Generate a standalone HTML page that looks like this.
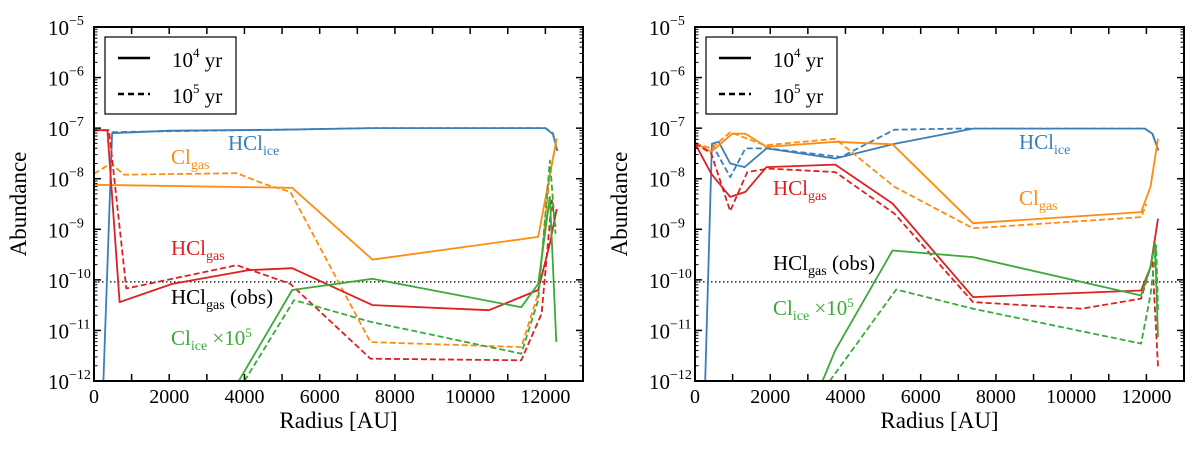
<!DOCTYPE html>
<html><head><meta charset="utf-8"><style>
html,body{margin:0;padding:0;background:#fff;}
svg{display:block;font-family:"Liberation Serif",serif;}
</style></head><body>
<svg id="chart" width="1200" height="450" viewBox="0 0 1200 450" xmlns="http://www.w3.org/2000/svg"></svg>
<script>
const xTicks=[0,2000,4000,6000,8000,10000,12000];
const yDecades=[-5,-6,-7,-8,-9,-10,-11,-12];
const obsLevel=-10.04;
// Left panel series [radius, log10 abundance]
const L_iceSolidX=[250,480,2000,5000,7400,12000,12200,12320];
const L_iceSolidY=[-12,-7.1,-7.05,-7.03,-7.0,-7.0,-7.12,-7.45];
const L_iceDashX=[480,2000,5000,7400,12000,12200,12320];
const L_iceDashY=[-7.08,-7.06,-7.03,-7.0,-7.0,-7.1,-7.45];
const L_clSolidX=[0,5270,7400,11810,12300];
const L_clSolidY=[-8.12,-8.18,-9.6,-9.15,-7.2];
const L_clDashX=[0,450,800,3800,4510,5220,7350,11360,11810,12120,12300];
const L_clDashY=[-7.9,-7.7,-7.92,-7.89,-8.1,-8.26,-11.23,-11.33,-10.27,-7.9,-7.25];
const L_hclSolidX=[0,355,680,2080,4100,5270,7400,10500,11810,12120,12300];
const L_hclSolidY=[-7.04,-7.04,-10.44,-10.08,-9.81,-9.77,-10.5,-10.6,-10.2,-9.28,-8.6];
const L_hclDashX=[0,400,860,3800,5220,7350,11360,11900,12170,12270];
const L_hclDashY=[-7.04,-7.04,-10.17,-9.71,-10.08,-11.56,-11.59,-10.67,-8.43,-8.95];
const L_cliceSolidX=[3850,5270,7400,11360,11810,12120,12290];
const L_cliceSolidY=[-12,-10.2,-9.98,-10.54,-10.08,-8.36,-11.23];
const L_cliceDashX=[4000,5320,7350,11360,11810,12120,12270];
const L_cliceDashY=[-12,-10.4,-10.83,-11.46,-10.4,-7.64,-9.09];
// Right panel series
const R_iceSolidX=[270,450,630,935,1320,1900,3730,5250,7390,11960,12160,12320];
const R_iceSolidY=[-12,-7.31,-7.27,-7.7,-7.77,-7.4,-7.6,-7.32,-7.01,-7.01,-7.11,-7.44];
const R_iceDashX=[450,935,1340,1950,3880,5300,7000,11960,12160,12320];
const R_iceDashY=[-7.31,-7.97,-7.4,-7.4,-7.57,-7.03,-7.01,-7.01,-7.11,-7.44];
const R_clSolidX=[0,430,990,1340,1900,3730,5250,7390,11860,12110,12310];
const R_clSolidY=[-7.29,-7.47,-7.11,-7.11,-7.37,-7.27,-7.32,-8.88,-8.66,-8.16,-7.21];
const R_clDashX=[0,430,935,1850,3730,5300,7390,11860,12000];
const R_clDashY=[-7.3,-7.4,-7.08,-7.34,-7.21,-8.16,-8.98,-8.76,-8.5];
const R_hclSolidX=[0,430,935,1340,1900,3730,5250,7390,11860,12110,12310];
const R_hclSolidY=[-7.3,-7.9,-8.36,-8.26,-7.77,-7.72,-8.49,-10.34,-10.21,-9.75,-8.79];
const R_hclDashX=[0,430,935,1390,1950,3730,5300,7390,10280,11860,12160,12310];
const R_hclDashY=[-7.3,-7.5,-8.64,-7.87,-7.8,-7.87,-8.69,-10.44,-10.57,-10.37,-9.61,-11.72];
const R_cliceSolidX=[3390,3730,5250,7390,11860,12110,12230,12310];
const R_cliceSolidY=[-12,-11.39,-9.42,-9.55,-10.31,-9.75,-9.28,-11.13];
const R_cliceDashX=[3580,5350,7390,11860,12110,12260,12310];
const R_cliceDashY=[-12,-10.19,-10.57,-11.26,-10.3,-9.32,-10.6];

const NS='http://www.w3.org/2000/svg';
const svg=document.getElementById('chart');
const C={blue:'#3a7fb8',orange:'#ff8c10',red:'#dd2020',green:'#3aaa3a'};
function mk(t,a,parent){const e=document.createElementNS(NS,t);for(const k in a)e.setAttribute(k,a[k]);(parent||svg).appendChild(e);return e;}

function panel(ox,tag,series,labels){
  const x0=ox,x1=ox+489,yT=27,yB=381;
  const sx=v=>x0+v/13000*(x1-x0);
  const sy=v=>yT+(-5-v)/7*(yB-yT);
  const g=mk('g',{});
  
  
  const clip=mk('clipPath',{id:'clip'+tag},g);
  mk('rect',{x:x0,y:yT,width:x1-x0,height:yB-yT},clip);
  const ob=mk('line',{x1:x0,x2:x1,y1:sy(obsLevel),y2:sy(obsLevel),stroke:'#000','stroke-width':1.3,'stroke-dasharray':'1.5,2.5'},g);
  
  
  const sg=mk('g',{'clip-path':'url(#clip'+tag+')'},g);
  series.forEach(s=>{
    const p=s.xs.map((v,i)=>sx(v).toFixed(1)+','+sy(s.ys[i]).toFixed(1)).join(' ');
    const pl=mk('polyline',{points:p,fill:'none',stroke:s.c,'stroke-width':1.8,'stroke-dasharray':s.d?'6,3':'none','stroke-linejoin':'round'},sg);
    
    
  });
  mk('rect',{x:x0,y:yT,width:x1-x0,height:yB-yT,fill:'none',stroke:'#000','stroke-width':2},g);
  for(let v=0;v<=13000;v+=1000){
    const X=sx(v);
    mk('line',{x1:X,x2:X,y1:yB,y2:yB-7,stroke:'#000','stroke-width':1.5},g);
    mk('line',{x1:X,x2:X,y1:yT,y2:yT+7,stroke:'#000','stroke-width':1.5},g);
  }
  xTicks.forEach(v=>{
    const t=mk('text',{x:sx(v),y:yB+22,'text-anchor':'middle','font-size':20},g);
    t.textContent=v;
    
    
  });
  yDecades.forEach(d=>{
    const Y=sy(d);
    mk('line',{x1:x0,x2:x0+7,y1:Y,y2:Y,stroke:'#000','stroke-width':1.5},g);
    mk('line',{x1:x1,x2:x1-7,y1:Y,y2:Y,stroke:'#000','stroke-width':1.5},g);
    if(d>-12)for(let m=2;m<=9;m++){const Ym=sy(d-1+Math.log10(m));
      mk('line',{x1:x0,x2:x0+3.5,y1:Ym,y2:Ym,stroke:'#000','stroke-width':1},g);
      mk('line',{x1:x1,x2:x1-3.5,y1:Ym,y2:Ym,stroke:'#000','stroke-width':1},g);}
    const t=mk('text',{x:x0-46,y:Y+8,'font-size':21},g);
    
    
    t.innerHTML='10<tspan dy="-10" font-size="14">\u2212'+(-d)+'</tspan>';
  });
  const xl=mk('text',{x:(x0+x1)/2,y:428,'text-anchor':'middle','font-size':23},g);
  xl.textContent='Radius [AU]';
  
  
  const yl=mk('text',{x:0,y:0,'text-anchor':'middle','font-size':23,transform:'translate('+(ox-68)+',204) rotate(-90)'},g);
  yl.textContent='Abundance';
  
  
  const lg=mk('g',{},g);
  
  
  mk('rect',{x:ox+11,y:37,width:131,height:77,fill:'#fff',stroke:'#000','stroke-width':1.2},lg);
  mk('line',{x1:ox+24,x2:ox+56,y1:58,y2:58,stroke:'#000','stroke-width':2.5},lg);
  mk('line',{x1:ox+24,x2:ox+56,y1:94,y2:94,stroke:'#000','stroke-width':2.5,'stroke-dasharray':'6,4'},lg);
  const t1=mk('text',{x:ox+78,y:67,'font-size':21},lg);t1.innerHTML='10<tspan dy="-10" font-size="13">4</tspan><tspan dy="10"> yr</tspan>';
  
  
  const t2=mk('text',{x:ox+78,y:103,'font-size':21},lg);t2.innerHTML='10<tspan dy="-10" font-size="13">5</tspan><tspan dy="10"> yr</tspan>';
  
  
  labels.forEach(l=>{
    const t=mk('text',{x:l.x,y:l.y,fill:l.c,'font-size':21},g);
    t.innerHTML=l.h;
    
    
  });
}
const sub=s=>'<tspan dy="5" font-size="14">'+s+'</tspan>';
panel(94,'left',[
 {xs:L_iceSolidX,ys:L_iceSolidY,c:C.blue,n:'hcl-ice-1e4'},
 {xs:L_iceDashX,ys:L_iceDashY,c:C.blue,d:1,n:'hcl-ice-1e5'},
 {xs:L_clSolidX,ys:L_clSolidY,c:C.orange,n:'cl-gas-1e4'},
 {xs:L_clDashX,ys:L_clDashY,c:C.orange,d:1,n:'cl-gas-1e5'},
 {xs:L_hclSolidX,ys:L_hclSolidY,c:C.red,n:'hcl-gas-1e4'},
 {xs:L_hclDashX,ys:L_hclDashY,c:C.red,d:1,n:'hcl-gas-1e5'},
 {xs:L_cliceSolidX,ys:L_cliceSolidY,c:C.green,n:'cl-ice-1e4'},
 {xs:L_cliceDashX,ys:L_cliceDashY,c:C.green,d:1,n:'cl-ice-1e5'}
],[
 {x:228,y:150,c:C.blue,h:'HCl'+sub('ice'),n:'hcl-ice-label'},
 {x:171,y:164,c:C.orange,h:'Cl'+sub('gas'),n:'cl-gas-label'},
 {x:171,y:255,c:C.red,h:'HCl'+sub('gas'),n:'hcl-gas-label'},
 {x:171,y:304,c:'#000',h:'HCl'+sub('gas')+'<tspan dy="-5"> (obs)</tspan>',n:'hcl-obs-label'},
 {x:171,y:345,c:C.green,h:'Cl'+sub('ice')+'<tspan dy="-5"> \u00d710</tspan><tspan dy="-8" font-size="13">5</tspan>',n:'cl-ice-label'}
]);
panel(695,'right',[
 {xs:R_iceSolidX,ys:R_iceSolidY,c:C.blue,n:'hcl-ice-1e4'},
 {xs:R_iceDashX,ys:R_iceDashY,c:C.blue,d:1,n:'hcl-ice-1e5'},
 {xs:R_clSolidX,ys:R_clSolidY,c:C.orange,n:'cl-gas-1e4'},
 {xs:R_clDashX,ys:R_clDashY,c:C.orange,d:1,n:'cl-gas-1e5'},
 {xs:R_hclSolidX,ys:R_hclSolidY,c:C.red,n:'hcl-gas-1e4'},
 {xs:R_hclDashX,ys:R_hclDashY,c:C.red,d:1,n:'hcl-gas-1e5'},
 {xs:R_cliceSolidX,ys:R_cliceSolidY,c:C.green,n:'cl-ice-1e4'},
 {xs:R_cliceDashX,ys:R_cliceDashY,c:C.green,d:1,n:'cl-ice-1e5'}
],[
 {x:1019,y:149,c:C.blue,h:'HCl'+sub('ice'),n:'hcl-ice-label'},
 {x:1019,y:205,c:C.orange,h:'Cl'+sub('gas'),n:'cl-gas-label'},
 {x:773,y:195,c:C.red,h:'HCl'+sub('gas'),n:'hcl-gas-label'},
 {x:773,y:270,c:'#000',h:'HCl'+sub('gas')+'<tspan dy="-5"> (obs)</tspan>',n:'hcl-obs-label'},
 {x:773,y:315,c:C.green,h:'Cl'+sub('ice')+'<tspan dy="-5"> \u00d710</tspan><tspan dy="-8" font-size="13">5</tspan>',n:'cl-ice-label'}
]);
</script>
</body></html>
